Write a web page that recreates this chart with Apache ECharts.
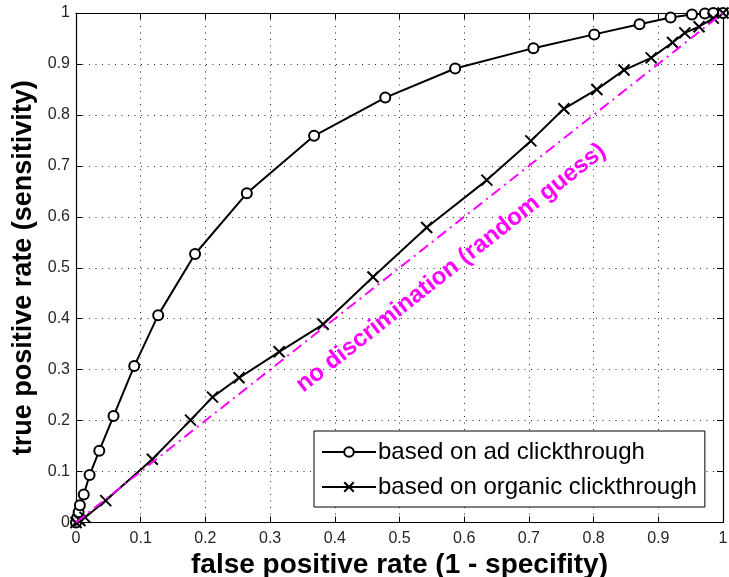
<!DOCTYPE html>
<html>
<head>
<meta charset="utf-8">
<script src="https://cdn.jsdelivr.net/npm/echarts@6/dist/echarts.min.js"></script>
<style>
  html, body { margin: 0; padding: 0; background: #fff; }
  #chart { width: 729px; height: 577px; }
</style>
</head>
<body>
<div id="chart"></div>
<script>
// ROC curves: ranking based on ad clickthrough vs. organic clickthrough
const adFpr = [0, 0.002, 0.004, 0.006, 0.012, 0.021, 0.036, 0.058, 0.090, 0.127, 0.184, 0.264, 0.368, 0.478, 0.586, 0.707, 0.801, 0.871, 0.919, 0.952, 0.972, 0.985, 1];
const adTpr = [0, 0.010, 0.020, 0.034, 0.055, 0.093, 0.141, 0.209, 0.307, 0.407, 0.527, 0.646, 0.759, 0.834, 0.891, 0.931, 0.958, 0.978, 0.991, 0.997, 0.999, 1.0, 1];

const organicFpr = [0, 0.006, 0.014, 0.046, 0.118, 0.177, 0.211, 0.252, 0.314, 0.382, 0.459, 0.542, 0.635, 0.703, 0.754, 0.805, 0.847, 0.889, 0.922, 0.941, 0.963, 0.985, 1];
const organicTpr = [0, 0.004, 0.010, 0.043, 0.124, 0.201, 0.246, 0.284, 0.335, 0.389, 0.482, 0.579, 0.672, 0.749, 0.812, 0.850, 0.888, 0.912, 0.942, 0.961, 0.973, 0.990, 1];

const diagonalX = [0, 1];
const diagonalY = [0, 1];

const xTickLabels = ['0', '0.1', '0.2', '0.3', '0.4', '0.5', '0.6', '0.7', '0.8', '0.9', '1'];
const yTickLabels = ['0', '0.1', '0.2', '0.3', '0.4', '0.5', '0.6', '0.7', '0.8', '0.9', '1'];

const seriesNames = ['based on ad clickthrough', 'based on organic clickthrough'];
const diagonalLabel = 'no discrimination (random guess)';

const zip = (xs, ys) => xs.map((x, i) => [x, ys[i]]);

const chart = echarts.init(document.getElementById('chart'), null, { renderer: 'canvas' });

const FONT = 'Liberation Sans, Arial, Helvetica, sans-serif';
const gridLine = { show: true, lineStyle: { color: '#222', width: 1, type: [1, 5.5] } };
const tickStyle = { show: true, inside: true, length: 6, lineStyle: { color: '#000', width: 1 } };
const boxLine = { show: true, onZero: false, lineStyle: { color: '#000', width: 1.2 } };
const labelStyle = { color: '#262626', fontSize: 16, fontFamily: FONT };

const grid = { left: 76, top: 13, width: 647, height: 509.5, containLabel: false, outerBoundsMode: 'none' };
const slopeAngle = Math.atan2(grid.height, grid.width);

const option = {
  backgroundColor: '#fff',
  animation: false,
  grid: grid,
  xAxis: [
    {
      type: 'value', min: 0, max: 1, interval: 0.1, position: 'bottom',
      axisLine: boxLine, axisTick: tickStyle, splitLine: gridLine,
      axisLabel: Object.assign({ margin: 8, formatter: (v, i) => xTickLabels[i] }, labelStyle),
      name: 'false positive rate (1 - specifity)',
      nameLocation: 'middle', nameGap: 40,
      nameTextStyle: { fontSize: 28, fontWeight: 'bold', color: '#000', fontFamily: FONT, verticalAlign: 'middle' }
    },
    {
      type: 'value', min: 0, max: 1, interval: 0.1, position: 'top',
      axisLine: boxLine, axisTick: tickStyle, splitLine: { show: false }, axisLabel: { show: false }
    }
  ],
  yAxis: [
    {
      type: 'value', min: 0, max: 1, interval: 0.1, position: 'left',
      axisLine: boxLine, axisTick: tickStyle, splitLine: gridLine,
      axisLabel: Object.assign({ margin: 6, formatter: (v, i) => yTickLabels[i] }, labelStyle),
      name: 'true positive rate (sensitivity)',
      nameLocation: 'middle', nameGap: 42,
      nameTextStyle: { fontSize: 27, fontWeight: 'bold', color: '#000', fontFamily: FONT, verticalAlign: 'middle' }
    },
    {
      type: 'value', min: 0, max: 1, interval: 0.1, position: 'right',
      axisLine: boxLine, axisTick: tickStyle, splitLine: { show: false }, axisLabel: { show: false }
    }
  ],
  legend: {
    orient: 'vertical',
    left: 314, top: 431,
    data: seriesNames,
    backgroundColor: '#fff',
    borderColor: '#000', borderWidth: 1,
    padding: [9, 8, 8, 7],
    itemGap: 11,
    itemWidth: 54, itemHeight: 12,
    textStyle: { fontSize: 24, lineHeight: 24, color: '#000', fontFamily: FONT, padding: [0, 0, 0, -3] }
  },
  series: [
    {
      name: seriesNames[0], type: 'line',
      data: zip(adFpr, adTpr),
      symbol: 'emptyCircle', symbolSize: 10,
      lineStyle: { color: '#000', width: 2 },
      itemStyle: { color: '#000', borderColor: '#000', borderWidth: 1.8 },
      z: 3
    },
    {
      name: seriesNames[1], type: 'line',
      data: zip(organicFpr, organicTpr),
      symbol: 'path://M0,0L10,10M10,0L0,10', symbolSize: 11,
      lineStyle: { color: '#000', width: 2 },
      itemStyle: { color: '#000', borderColor: '#000', borderWidth: 2 },
      z: 3
    },
    {
      name: 'diagonal', type: 'line',
      data: zip(diagonalX, diagonalY),
      symbol: 'none',
      lineStyle: { color: '#ff00ff', width: 2, type: [11, 5, 2, 5] },
      z: 4,
      silent: true
    }
  ],
  graphic: [
    {
      type: 'text',
      x: 451, y: 268,
      rotation: slopeAngle,
      z: 10,
      style: {
        text: diagonalLabel,
        fill: '#ff00ff',
        font: 'bold 24px ' + FONT,
        align: 'center',
        verticalAlign: 'middle'
      }
    }
  ]
};

chart.setOption(option);
</script>
</body>
</html>
